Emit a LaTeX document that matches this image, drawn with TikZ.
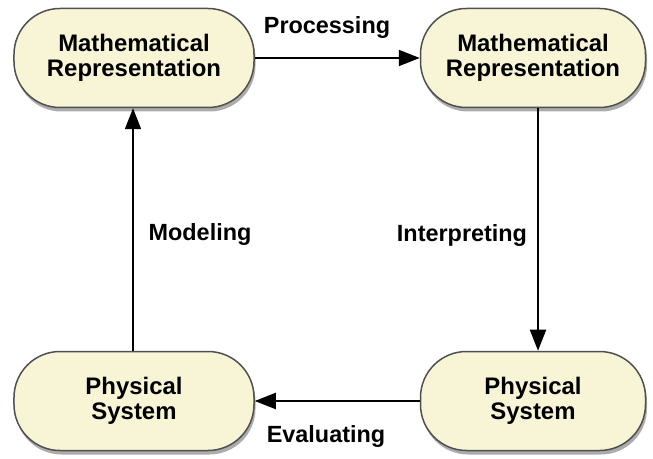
\documentclass[tikz,border=0pt]{standalone}
\usepackage{fontspec}
\setmainfont{Liberation Sans}
\usetikzlibrary{shadows,arrows.meta,shapes.misc}
\definecolor{boxfill}{HTML}{F8F5D6}
\definecolor{boxline}{HTML}{505050}
\tikzset{
  stagebox/.style={draw=boxline, line width=1.5bp, fill=boxfill,
    rounded corners=46bp, minimum height=99bp, align=center,
    font=\fontsize{24}{24.5}\selectfont\bfseries,
    drop shadow={shadow xshift=1.5bp, shadow yshift=-4bp, opacity=0.5, fill=black!65}},
  flow/.style={draw=black, line width=2bp, -{Triangle[length=21bp,width=16bp]}},
  lbl/.style={font=\fontsize{23.5}{24}\selectfont\bfseries, inner sep=0pt}
}
\begin{document}
\begin{tikzpicture}[x=1bp,y=-1bp]
\useasboundingbox (0,0) rectangle (653,459);
\node[stagebox, minimum width=240bp] (mr1) at (134,58) {Mathematical\\Representation};
\node[stagebox, minimum width=225bp] (mr2) at (533,58) {Mathematical\\Representation};
\node[stagebox, minimum width=240bp] (ps1) at (134,401) {Physical\\System};
\node[stagebox, minimum width=225bp] (ps2) at (533,401) {Physical\\System};
\draw[flow] (mr1.east) -- (mr2.west);
\draw[flow] (mr2.south -| 538,0) -- (ps2.north -| 538,0);
\draw[flow] (ps2.west) -- (ps1.east);
\draw[flow] (ps1.north -| 133,0) -- (mr1.south -| 133,0);
\node[lbl] (tp) at (327,28) {Processing};
\node[lbl] (ti) at (462,235) {Interpreting};
\node[lbl] (te) at (326,436) {Evaluating};
\node[lbl] (tm) at (200,234) {Modeling};
\end{tikzpicture}
\end{document}
